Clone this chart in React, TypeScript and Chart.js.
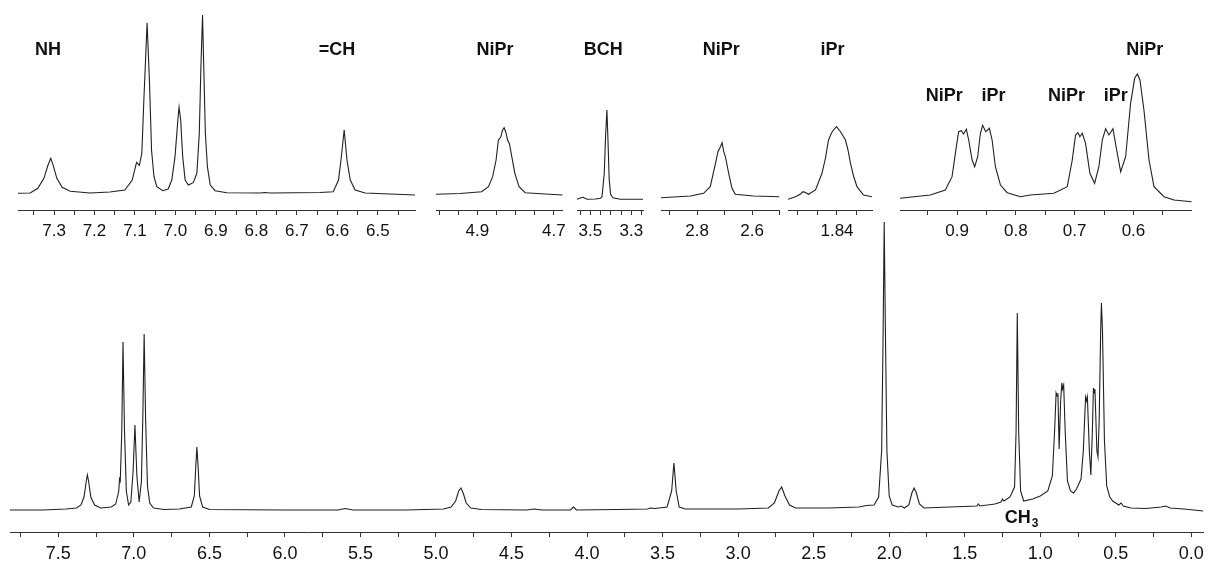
import React, { useEffect, useRef } from 'react';
import { Chart, registerables } from 'chart.js';

Chart.register(...registerables);

const FONT = '"Liberation Sans", Arial, Helvetica, sans-serif';

// ---------- DATA: [chemical shift (ppm), intensity (a.u.)] ----------
const MAIN_SPECTRUM: [number, number][] = [
  [7.82, 1], [7.6, 1], [7.45, 2], [7.38, 3], [7.35, 6], [7.33, 14], [7.315, 30], [7.308, 36], [7.3, 30],
  [7.285, 14], [7.26, 6], [7.22, 3], [7.15, 4], [7.12, 7], [7.1, 20], [7.095, 32], [7.09, 30], [7.08, 80],
  [7.072, 169], [7.062, 80], [7.05, 20], [7.035, 6], [7.02, 9], [7.005, 40], [6.993, 86], [6.98, 35],
  [6.965, 9], [6.95, 30], [6.94, 100], [6.932, 177], [6.922, 90], [6.91, 25], [6.895, 8], [6.87, 3],
  [6.8, 1.5], [6.7, 2], [6.62, 4], [6.6, 15], [6.59, 45], [6.583, 64], [6.575, 45], [6.565, 15],
  [6.545, 4], [6.5, 1.5], [6.0, 1], [5.65, 1], [5.6, 2.5], [5.55, 1], [5.2, 1], [4.95, 2], [4.9, 4],
  [4.87, 10], [4.85, 20], [4.835, 23], [4.82, 18], [4.8, 8], [4.77, 3], [4.7, 1.5], [4.4, 1], [4.35, 2],
  [4.3, 1], [4.11, 1], [4.09, 4], [4.07, 1], [3.8, 1.5], [3.6, 2], [3.58, 3], [3.55, 2.5], [3.47, 4],
  [3.44, 20], [3.425, 48], [3.41, 20], [3.39, 4], [3.35, 2], [3.0, 2], [2.8, 3], [2.76, 8], [2.73, 20],
  [2.712, 24], [2.69, 15], [2.66, 6], [2.62, 3], [2.4, 3], [2.2, 4], [2.15, 5.5], [2.1, 6], [2.07, 14],
  [2.05, 60], [2.04, 180], [2.033, 289], [2.025, 180], [2.015, 60], [2.0, 15], [1.98, 6], [1.94, 4],
  [1.92, 5], [1.9, 3], [1.87, 6], [1.85, 18], [1.835, 23], [1.82, 18], [1.8, 7], [1.77, 3], [1.6, 4],
  [1.42, 5], [1.41, 7], [1.4, 5], [1.3, 7], [1.26, 9], [1.25, 12], [1.24, 10], [1.2, 14], [1.17, 24],
  [1.16, 80], [1.152, 198], [1.143, 80], [1.13, 20], [1.11, 10], [1.05, 12], [1.0, 15], [0.95, 20],
  [0.92, 35], [0.905, 80], [0.895, 118], [0.889, 115], [0.883, 118], [0.875, 62], [0.865, 110],
  [0.857, 128], [0.852, 122], [0.845, 126], [0.835, 80], [0.82, 30], [0.8, 20], [0.78, 18], [0.76, 22],
  [0.73, 32], [0.715, 60], [0.7, 114], [0.693, 110], [0.688, 114], [0.675, 60], [0.665, 36], [0.655, 80],
  [0.648, 123], [0.643, 118], [0.638, 122], [0.625, 60], [0.618, 54], [0.61, 90], [0.6, 180], [0.595, 208],
  [0.588, 180], [0.575, 70], [0.56, 25], [0.54, 14], [0.52, 10], [0.48, 6], [0.465, 8], [0.45, 5],
  [0.4, 3], [0.3, 2.5], [0.2, 4], [0.17, 5], [0.14, 3], [0.05, 2], [-0.08, 0],
];
const MAIN_TICK_LABELS = ['7.5', '7.0', '6.5', '6.0', '5.5', '5.0', '4.5', '4.0', '3.5', '3.0', '2.5', '2.0', '1.5', '1.0', '0.5', '0.0'];

const INSET1_SPECTRUM: [number, number][] = [
  [7.389, 0], [7.359, 0.3], [7.34, 5], [7.325, 15], [7.315, 28], [7.308, 35], [7.302, 28], [7.293, 15],
  [7.28, 6], [7.26, 2], [7.211, 0.3], [7.162, 1.3], [7.125, 3.3], [7.107, 13], [7.096, 31], [7.089, 28],
  [7.083, 40], [7.078, 93], [7.07, 170.6], [7.064, 110], [7.059, 43], [7.053, 16.6], [7.046, 6.6],
  [7.031, 2.6], [7.018, 4.3], [7.009, 13.3], [7.001, 36.6], [6.994, 73.3], [6.991, 86], [6.987, 73.3],
  [6.982, 36.6], [6.976, 13.3], [6.968, 8.3], [6.956, 10.6], [6.947, 20], [6.941, 60.3], [6.937, 126.6],
  [6.933, 178.3], [6.93, 126.6], [6.926, 60.3], [6.921, 26.6], [6.914, 8.3], [6.902, 2.6], [6.873, 0.6],
  [6.791, 0.3], [6.779, 0.8], [6.766, 0.3], [6.643, 0.8], [6.61, 1.6], [6.597, 13.3], [6.591, 33],
  [6.583, 63.3], [6.576, 33], [6.568, 13.3], [6.556, 3.3], [6.531, 0.3], [6.408, -1.7],
];
const INSET1_TICK_LABELS = ['7.3', '7.2', '7.1', '7.0', '6.9', '6.8', '6.7', '6.6', '6.5'];
const INSET1_NOTES = [{ text: 'NH', x: 7.315, y: 143 }, { text: '=CH', x: 6.601, y: 143 }];

const INSET2_SPECTRUM: [number, number][] = [
  [5.008, -0.3], [4.945, 0.5], [4.889, 2.3], [4.871, 7.3], [4.86, 17.3], [4.851, 34], [4.845, 54],
  [4.839, 56.7], [4.834, 64], [4.83, 66.3], [4.826, 62.3], [4.821, 54], [4.816, 50], [4.81, 37.3],
  [4.802, 20.7], [4.791, 7.3], [4.775, 1.3], [4.723, 0], [4.677, -1],
];
const INSET2_TICK_LABELS = ['4.9', '4.7'];
const INSET2_NOTES = [{ text: 'NiPr', x: 4.854, y: 144 }];

const INSET3_SPECTRUM: [number, number][] = [
  [3.565, 0], [3.549, 1.3], [3.536, 2], [3.516, 0], [3.476, 0.3], [3.451, 1], [3.443, 2.6], [3.432, 26],
  [3.425, 66], [3.419, 89.3], [3.414, 60], [3.408, 20], [3.401, 5], [3.39, 1.5], [3.354, 0], [3.243, 0],
];
const INSET3_TICK_LABELS = ['3.5', '3.3'];
const INSET3_NOTES = [{ text: 'BCH', x: 3.437, y: 149 }];

const INSET4_SPECTRUM: [number, number][] = [
  [2.931, -0.7], [2.824, 1], [2.776, 3.7], [2.752, 10.3], [2.733, 33.7], [2.724, 45.3], [2.715, 50.3],
  [2.709, 54.3], [2.703, 45.3], [2.697, 40.3], [2.685, 23.7], [2.673, 8.7], [2.661, 2.7], [2.594, 1],
  [2.5, 0.3],
];
const INSET4_TICK_LABELS = ['2.8', '2.6'];
const INSET4_NOTES = [{ text: 'NiPr', x: 2.712, y: 147 }];

const INSET5_SPECTRUM: [number, number][] = [
  [1.938, -1.8], [1.923, 0.8], [1.913, 3.5], [1.908, 5.8], [1.903, 5], [1.897, 3.2], [1.883, 7.5],
  [1.87, 24.2], [1.863, 39.5], [1.857, 57.5], [1.851, 64.5], [1.847, 67.5], [1.841, 70.8], [1.833, 65.8],
  [1.823, 57.5], [1.818, 47.5], [1.813, 34.2], [1.807, 21.5], [1.8, 10.8], [1.787, 2.5], [1.77, 0.8],
];
const INSET5_TICK_LABELS = ['1.84'];
const INSET5_NOTES = [{ text: 'iPr', x: 1.849, y: 147.5 }];

const INSET6_SPECTRUM: [number, number][] = [
  [0.997, 1.7], [0.9455, 5], [0.9199, 10], [0.9085, 23.3], [0.9012, 53.3], [0.8973, 68.3], [0.8927, 69.3],
  [0.8888, 66], [0.8842, 70.7], [0.8802, 60], [0.8744, 40], [0.87, 33.3], [0.8649, 43.3], [0.8603, 66.7],
  [0.8564, 74.7], [0.8513, 68.3], [0.845, 71.7], [0.8404, 60], [0.8348, 33.3], [0.8262, 15], [0.8148, 7.3],
  [0.7922, 3.3], [0.7751, 5], [0.7354, 6.7], [0.7126, 13.3], [0.7041, 40], [0.6985, 65], [0.6945, 67.3],
  [0.6911, 63.3], [0.6871, 66.7], [0.6815, 56.7], [0.6741, 26.7], [0.6661, 16.7], [0.6588, 33.3],
  [0.653, 60], [0.6474, 71.3], [0.6417, 65], [0.6349, 71.3], [0.6286, 50], [0.6218, 28.3], [0.6133, 43.3],
  [0.6049, 96.7], [0.598, 121.7], [0.5934, 126], [0.589, 120], [0.5822, 90], [0.5736, 40], [0.5651, 13.3],
  [0.5481, 3.3], [0.531, 0], [0.501, -1.7],
];
const INSET6_TICK_LABELS = ['0.9', '0.8', '0.7', '0.6'];
const INSET6_NOTES = [
  { text: 'NiPr', x: 0.9216, y: 104 }, { text: 'iPr', x: 0.8382, y: 104 },
  { text: 'NiPr', x: 0.7138, y: 104 }, { text: 'iPr', x: 0.6303, y: 104 },
  { text: 'NiPr', x: 0.581, y: 150 },
];
const MAIN_NOTES = [{ text: 'CH', sub: '3', x: 1.123, y: -7.5 }];

// ---------- LAYOUT ----------
type Note = { text: string; x: number; y: number; sub?: string };
type Spec = {
  data: [number, number][]; labels: string[]; notes: Note[];
  xMin: number; xMax: number; step: number; yMin: number; yMax: number;
  left: number; right: number; areaTop: number; axisY: number; canvasTop: number; canvasBottom: number;
  fontSize: number; tickPad: number;
};

const PAD = 20;

const MAIN: Spec = {
  data: MAIN_SPECTRUM, labels: MAIN_TICK_LABELS, notes: MAIN_NOTES,
  xMin: -0.08, xMax: 7.82, step: 0.25, yMin: -21, yMax: 311,
  left: 9.6, right: 1203, areaTop: 200, axisY: 532, canvasTop: 190, canvasBottom: 565, fontSize: 18, tickPad: 6,
};

const insetBase = { areaTop: 0, axisY: 210, canvasTop: 0, canvasBottom: 248, fontSize: 17, tickPad: 6 };
const INSETS: Spec[] = [
  { ...insetBase, data: INSET1_SPECTRUM, labels: INSET1_TICK_LABELS, notes: INSET1_NOTES, xMin: 6.408, xMax: 7.389, step: 0.05, yMin: -16.7, yMax: 193.3, left: 18, right: 415 },
  { ...insetBase, data: INSET2_SPECTRUM, labels: INSET2_TICK_LABELS, notes: INSET2_NOTES, xMin: 4.677, xMax: 5.008, step: 0.05, yMin: -16, yMax: 194, left: 436, right: 562.7 },
  { ...insetBase, data: INSET3_SPECTRUM, labels: INSET3_TICK_LABELS, notes: INSET3_NOTES, xMin: 3.243, xMax: 3.565, step: 0.05, yMin: -10.7, yMax: 199.3, left: 576.7, right: 642.7 },
  { ...insetBase, data: INSET4_SPECTRUM, labels: INSET4_TICK_LABELS, notes: INSET4_NOTES, xMin: 2.5, xMax: 2.931, step: 0.1, yMin: -13, yMax: 197, left: 660.7, right: 779.3 },
  { ...insetBase, data: INSET5_SPECTRUM, labels: INSET5_TICK_LABELS, notes: INSET5_NOTES, xMin: 1.77, xMax: 1.938, step: 0.04, yMin: -12.5, yMax: 197.5, left: 787.7, right: 871.7 },
  { ...insetBase, data: INSET6_SPECTRUM, labels: INSET6_TICK_LABELS, notes: INSET6_NOTES, xMin: 0.501, xMax: 0.997, step: 0.05, yMin: -10, yMax: 200, left: 900, right: 1191.7 },
];

function makeNotesPlugin(notes: Note[]) {
  return {
    id: 'notes',
    afterDatasetsDraw(chart: any) {
      const ctx = chart.ctx;
      const xs = chart.scales.x;
      const ys = chart.scales.y;
      const size = 18;
      ctx.save();
      ctx.fillStyle = '#111';
      ctx.textBaseline = 'middle';
      ctx.textAlign = 'left';
      for (const n of notes) {
        const px = xs.getPixelForValue(n.x);
        const py = ys.getPixelForValue(n.y);
        ctx.font = `bold ${size}px ${FONT}`;
        const w = ctx.measureText(n.text).width;
        let sw = 0;
        if (n.sub) {
          ctx.font = `bold ${Math.round(size * 0.68)}px ${FONT}`;
          sw = ctx.measureText(n.sub).width + 1;
        }
        const x0 = px - (w + sw) / 2;
        ctx.font = `bold ${size}px ${FONT}`;
        ctx.fillText(n.text, x0, py);
        if (n.sub) {
          ctx.font = `bold ${Math.round(size * 0.68)}px ${FONT}`;
          ctx.fillText(n.sub, x0 + w + 1, py + size * 0.28);
        }
      }
      ctx.restore();
    },
  };
}

function SpectrumChart({ spec }: { spec: Spec }) {
  const ref = useRef<HTMLCanvasElement>(null);
  const cLeft = spec.left - PAD;
  const cWidth = Math.round(spec.right - spec.left + 2 * PAD);
  const cHeight = spec.canvasBottom - spec.canvasTop;

  useEffect(() => {
    if (!ref.current) return;
    const labelFor = (v: number) => {
      const hit = spec.labels.find((l) => Math.abs(parseFloat(l) - v) < 1e-6);
      return hit ?? '';
    };
    const chart = new Chart(ref.current, {
      type: 'line',
      data: {
        datasets: [
          {
            data: spec.data.map(([x, y]) => ({ x, y })),
            borderColor: '#202020',
            borderWidth: 1.1,
            pointRadius: 0,
            tension: 0,
            fill: false,
          },
        ],
      },
      options: {
        animation: false,
        responsive: false,
        devicePixelRatio: 1,
        events: [],
        layout: { padding: { left: PAD, right: cWidth - PAD - (spec.right - spec.left), top: spec.areaTop - spec.canvasTop, bottom: 0 } },
        plugins: { legend: { display: false }, tooltip: { enabled: false } },
        scales: {
          x: {
            type: 'linear',
            reverse: true,
            min: spec.xMin,
            max: spec.xMax,
            afterFit: (s: any) => {
              s.height = spec.canvasBottom - spec.axisY;
              s.paddingLeft = 0;
              s.paddingRight = 0;
            },
            border: { display: true, color: '#333', width: 1 },
            grid: { display: true, drawOnChartArea: false, drawTicks: true, tickLength: 5, color: '#333' },
            ticks: {
              stepSize: spec.step,
              autoSkip: false,
              maxRotation: 0,
              minRotation: 0,
              includeBounds: false,
              padding: spec.tickPad,
              color: '#111',
              font: { family: FONT, size: spec.fontSize },
              callback: (v: any) => labelFor(Number(v)),
            },
          },
          y: { type: 'linear', display: false, min: spec.yMin, max: spec.yMax },
        },
      } as any,
      plugins: [makeNotesPlugin(spec.notes)],
    });
    return () => chart.destroy();
  }, []);

  return (
    <canvas
      ref={ref}
      width={cWidth}
      height={cHeight}
      style={{ position: 'absolute', left: cLeft, top: spec.canvasTop, width: cWidth, height: cHeight }}
    />
  );
}

export default function App() {
  return (
    <div style={{ position: 'absolute', left: 0, top: 0, width: 1208, height: 565, overflow: 'hidden', background: '#fff' }}>
      <SpectrumChart spec={MAIN} />
      {INSETS.map((s, i) => (
        <SpectrumChart key={i} spec={s} />
      ))}
    </div>
  );
}
